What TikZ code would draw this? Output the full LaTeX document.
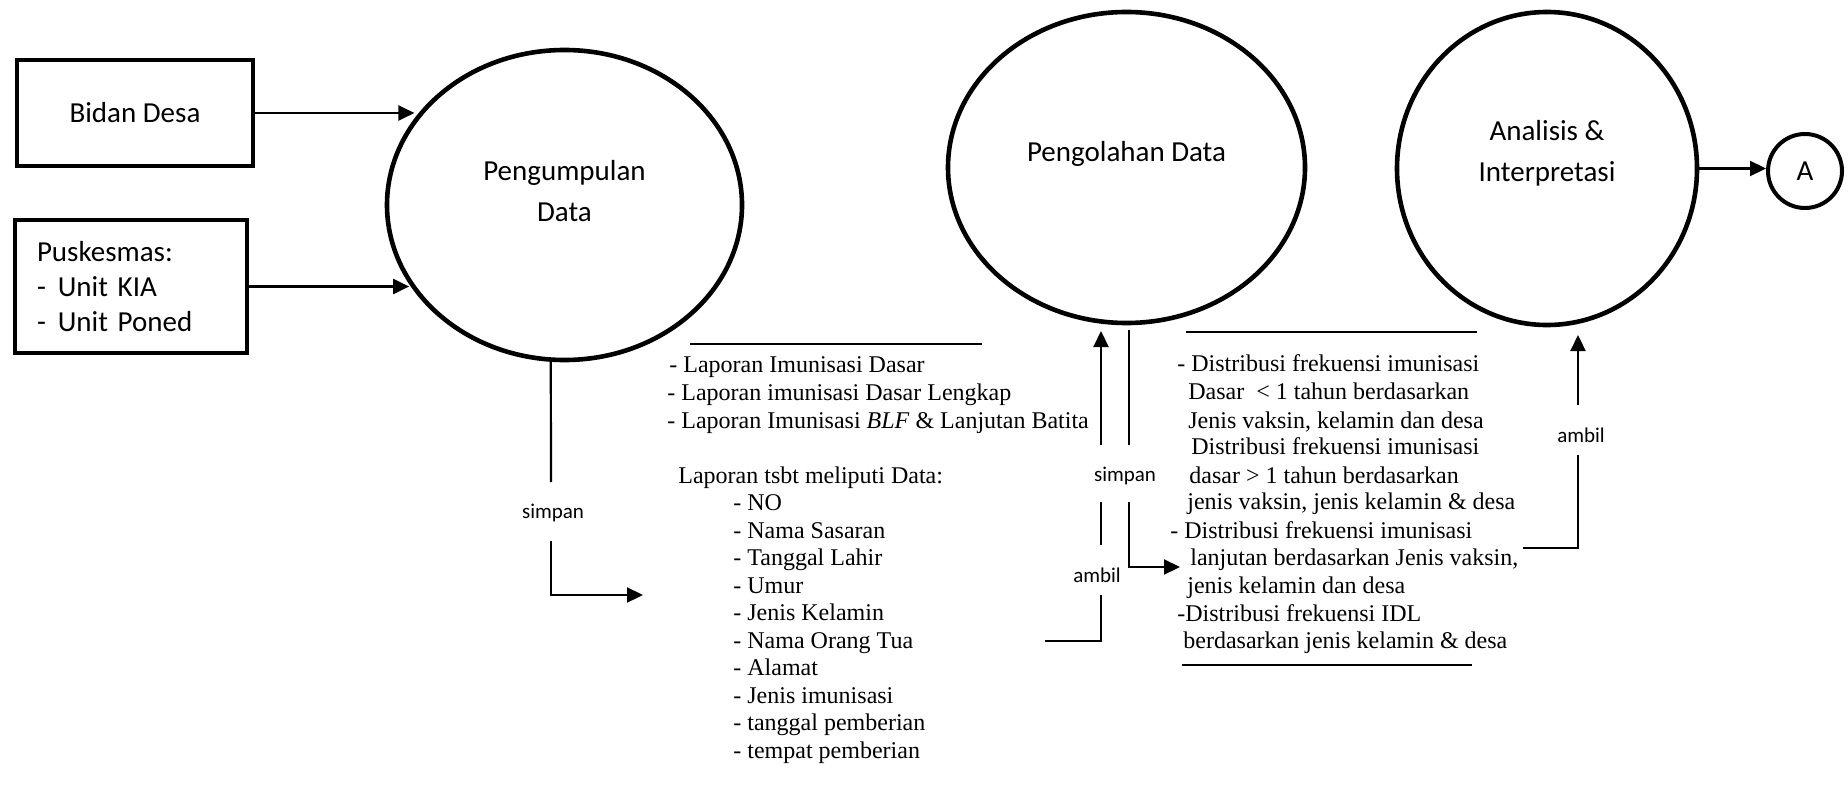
\documentclass[tikz,border=0pt]{standalone}
\usepackage{fontspec}
\setmainfont{Liberation Serif}
\newfontfamily\calfont{Carlito}
\usetikzlibrary{shapes.geometric,arrows.meta}

\begin{document}
\begin{tikzpicture}[x=0.5pt,y=-0.5pt,
  boxtext/.style={font=\calfont\fontsize{14.5}{17.5}\selectfont},
  entity/.style={draw, line width=2pt, rectangle, inner sep=0pt, boxtext},
  process/.style={draw, line width=2.3pt, ellipse, inner sep=0pt},
  ptext/.style={font=\calfont\fontsize{14.5}{20.5}\selectfont, align=center},
  flow/.style={line width=1.1pt},
  arr/.style={flow, -{Triangle[length=8pt,width=7.5pt]}},
  tag/.style={font=\calfont\fontsize{10.5}{12}\selectfont, inner sep=0pt},
  rule/.style={line width=0.9pt},
  txt/.style={anchor=base west, inner sep=0pt, font=\fontsize{12}{13.8}\selectfont},
]
\useasboundingbox (0,0) rectangle (1848,792);

% external entities
\node[entity, minimum width=118pt, minimum height=53pt] (bd) at (135,113) {Bidan Desa};
\node[entity, minimum height=66.5pt, text width=94pt, inner xsep=11pt, align=left] (pk) at (131,286.5)
  {Puskesmas:\\-\hspace{6pt}Unit KIA\\-\hspace{6pt}Unit Poned};

% processes
\node[process, minimum width=177.5pt, minimum height=155pt,
  label={[ptext, yshift=7pt]center:Pengumpulan\\Data}] (pu) at (564.5,205) {};
\node[process, minimum width=178.5pt, minimum height=155.5pt,
  label={[ptext, yshift=7pt]center:Pengolahan Data}] (pg) at (1126.5,167.5) {};
\node[process, minimum width=150pt, minimum height=156.5pt,
  label={[ptext, yshift=7.5pt]center:Analisis \&\\Interpretasi}] (an) at (1547,168.5) {};
\node[draw, circle, line width=2pt, minimum size=37pt, inner sep=0pt, boxtext] (A) at (1805,171) {A};

% inputs and output
\draw[arr] (bd.east) -- (bd.east -| pu.150);
\draw[arr] (pk.east) -- (pk.east -| pu.207);
\draw[arr] (an.east) -- (an.east -| A.west);

% flow labels
\node[tag] (s1) at (553,513) {simpan};
\node[tag] (s2) at (1125,476) {simpan};
\node[tag] (a1) at (1097,575) {ambil};
\node[tag] (a2) at (1581,435) {ambil};

% store the collected reports
\coordinate (s1a) at (551,482);
\coordinate (s1b) at (551,541);
\coordinate (s1c) at (551,595);
\coordinate (s1d) at (643,595);
\draw[flow] (pu.265) -- (s1a);
\draw[arr] (s1b) -- (s1c) -- (s1d);

% reports taken up for processing
\coordinate (a1a) at (1045,641);
\coordinate (a1b) at (1101,641);
\coordinate (a1c) at (1101,595);
\coordinate (a1d) at (1101,545);
\coordinate (a1e) at (1101,502);
\coordinate (a1f) at (1101,445);
\coordinate (a1g) at (1101,331);
\draw[flow] (a1a) -- (a1b) -- (a1c);
\draw[flow] (a1d) -- (a1e);
\draw[arr] (a1f) -- (a1g);

% processed results stored
\coordinate (s2a) at (1129,330);
\coordinate (s2b) at (1129,445);
\coordinate (s2c) at (1129,502);
\coordinate (s2d) at (1129,567);
\coordinate (s2e) at (1180,567);
\draw[flow] (s2a) -- (s2b);
\draw[arr] (s2c) -- (s2d) -- (s2e);

% results taken up for analysis
\coordinate (a2a) at (1523,548);
\coordinate (a2b) at (1578,548);
\coordinate (a2c) at (1578,455);
\coordinate (a2d) at (1578,405);
\coordinate (a2e) at (1578,335);
\draw[flow] (a2a) -- (a2b) -- (a2c);
\draw[arr] (a2d) -- (a2e);

% data store: reports
\coordinate (r1a) at (690,344);
\coordinate (r1b) at (982,344);
\draw[rule] (r1a) -- (r1b);
\foreach \n/\x/\y/\t in {
  1/669/372/{- Laporan Imunisasi Dasar},
  2/667/400/{- Laporan imunisasi Dasar Lengkap},
  3/667/428/{- Laporan Imunisasi \textit{BLF} \& Lanjutan Batita},
  4/678/483/{Laporan tsbt meliputi Data:},
  5/733/510/{- NO},
  6/733/538/{- Nama Sasaran},
  7/733/565/{- Tanggal Lahir},
  8/733/593/{- Umur},
  9/733/620/{- Jenis Kelamin},
  10/733/648/{- Nama Orang Tua},
  11/733/675/{- Alamat},
  12/733/703/{- Jenis imunisasi},
  13/733/730/{- tanggal pemberian},
  14/733/758/{- tempat pemberian}}
  \node[txt] (lap\n) at (\x,\y) {\t};

% data store: frequency distributions
\coordinate (r2a) at (1186,332);
\coordinate (r2b) at (1477,332);
\coordinate (r3a) at (1182,665);
\coordinate (r3b) at (1472,665);
\draw[rule] (r2a) -- (r2b);
\draw[rule] (r3a) -- (r3b);
\foreach \n/\x/\y/\t in {
  1/1177/371/{- Distribusi frekuensi imunisasi},
  2/1188/399/{Dasar\ \ < 1 tahun berdasarkan},
  3/1188/428/{Jenis vaksin, kelamin dan desa},
  4/1191/454/{Distribusi frekuensi imunisasi},
  5/1189/483/{dasar > 1 tahun berdasarkan},
  6/1187/509/{jenis vaksin, jenis kelamin \& desa},
  7/1170/538/{- Distribusi frekuensi imunisasi},
  8/1190/565/{lanjutan berdasarkan Jenis vaksin,},
  9/1187/593/{jenis kelamin dan desa},
  10/1177/621/{-Distribusi frekuensi IDL},
  11/1183/648/{berdasarkan jenis kelamin \& desa}}
  \node[txt] (dst\n) at (\x,\y) {\t};
\end{tikzpicture}
\end{document}
